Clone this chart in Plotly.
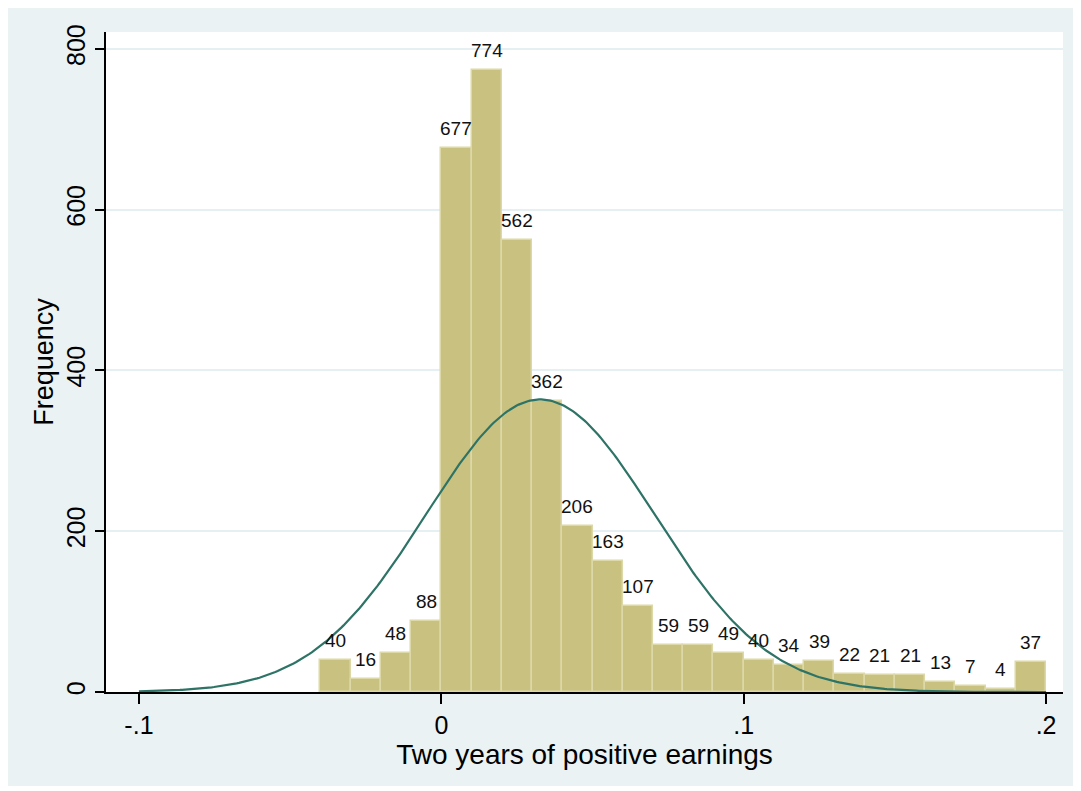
import numpy as np
import plotly.graph_objects as go

# ---- data ----
bin_start = -0.04
bin_width = 0.01
counts = [40, 16, 48, 88, 677, 774, 562, 362, 206, 163, 107, 59, 59, 49,
          40, 34, 39, 22, 21, 21, 13, 7, 4, 37]
x_tick_vals = [-0.1, 0, 0.1, 0.2]
x_tick_text = ["-.1", "0", ".1", ".2"]
y_tick_vals = [0, 200, 400, 600, 800]
y_tick_text = ["0", "200", "400", "600", "800"]
# fitted normal density parameters (overlay)
norm_mean = 0.0327
norm_sd = 0.0378
curve_from, curve_to = -0.1, 0.2

centers = [bin_start + bin_width * (i + 0.5) for i in range(len(counts))]
n_obs = sum(counts)
xs = np.linspace(curve_from, curve_to, 400)
ys = n_obs * bin_width / (norm_sd * np.sqrt(2 * np.pi)) * np.exp(-0.5 * ((xs - norm_mean) / norm_sd) ** 2)

# page has an 8px body margin; figure sized to fit the window
W, H = 1073, 778
L, R, T, B = 98, 18, 24, 94

FONT = "Liberation Sans, Arial, sans-serif"
BG = "#eaf2f3"

fig = go.Figure()
fig.add_trace(go.Bar(
    x=centers, y=counts, width=bin_width,
    marker=dict(color="#c9c180", line=dict(color="#ddd8a8", width=1.5)),
    hoverinfo="skip", showlegend=False,
))
fig.add_trace(go.Scatter(
    x=xs, y=ys, mode="lines",
    line=dict(color="#2d7366", width=2.2),
    hoverinfo="skip", showlegend=False,
))

for cx, c in zip(centers, counts):
    fig.add_annotation(
        x=cx, y=c, text=str(c), showarrow=False,
        yanchor="bottom", xanchor="center", yshift=7,
        font=dict(family=FONT, size=19, color="#111111"),
    )

fig.update_layout(
    width=W, height=H,
    margin=dict(l=L, r=R, t=T, b=B, autoexpand=False),
    paper_bgcolor=BG, plot_bgcolor="white",
    bargap=0,
    font=dict(family=FONT, color="black"),
    xaxis=dict(
        range=[-0.1109, 0.2056], automargin=False,
        tickvals=x_tick_vals, ticktext=x_tick_text,
        ticks="outside", ticklen=10, tickwidth=1.5, tickcolor="black",
        showline=True, linecolor="black", linewidth=1.5,
        showgrid=False, zeroline=False,
        tickfont=dict(size=25, family=FONT, color="black"),
        title=dict(text="Two years of positive earnings", standoff=1,
                   font=dict(size=28, family=FONT, color="black")),
    ),
    yaxis=dict(
        range=[0, 821], automargin=False,
        tickvals=y_tick_vals, ticktext=y_tick_text, tickangle=-90,
        ticks="outside", ticklen=9, tickwidth=1.5, tickcolor="black",
        showline=True, linecolor="black", linewidth=1.5,
        showgrid=True, gridcolor="#e6eff1", gridwidth=2,
        zeroline=False,
        tickfont=dict(size=25, family=FONT, color="black"),
        title=dict(text="Frequency", standoff=1,
                   font=dict(size=27, family=FONT, color="black")),
    ),
)

fig.write_html("out.html")
